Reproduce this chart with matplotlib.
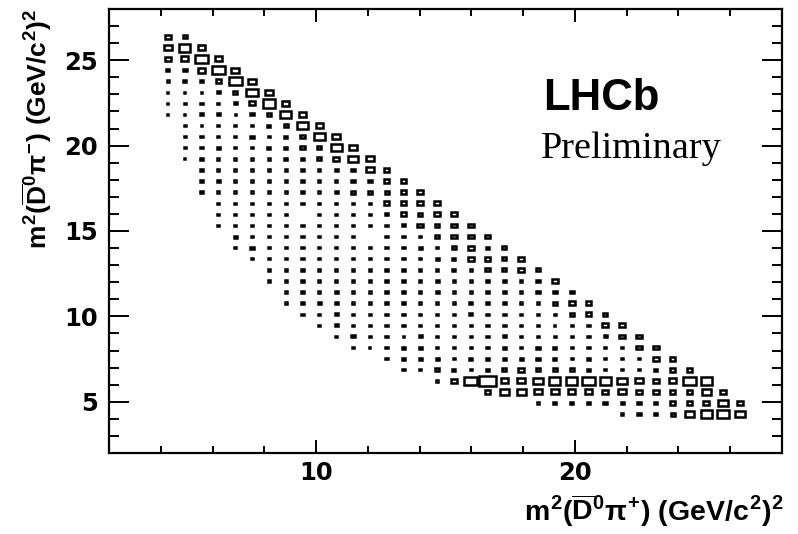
import numpy as np
import matplotlib
matplotlib.use("Agg")
import matplotlib.pyplot as plt
from matplotlib.patches import Rectangle
from matplotlib.ticker import MultipleLocator

plt.rcParams["font.family"] = ["DejaVu Sans"]
plt.rcParams["mathtext.fontset"] = "custom"
plt.rcParams["mathtext.rm"] = "Liberation Sans:bold"
plt.rcParams["mathtext.it"] = "Liberation Sans:bold"
plt.rcParams["mathtext.bf"] = "Liberation Sans:bold"

# Dalitz-plot histogram: 40 x 40 bins from 2 to 28 GeV^2 on both axes
AXIS_MIN, AXIS_MAX, N_BINS = 2.0, 28.0, 40
# z scale: a bin holding Z_MAX events fills its whole cell
Z_MAX = 400.0

# events per bin for each content code used in ROWS
CODE_COUNTS = {".": 0, "a": 2, "b": 7, "c": 14, "d": 25, "e": 46,
               "f": 79, "g": 124, "h": 176, "i": 227, "k": 369}

# y-bin index -> (first x-bin index, bin contents along x as codes)
ROWS = {
    37: (3, "ed"),
    36: (3, "fhf"),
    35: (3, "efif"),
    34: (3, "cdfif"),
    33: (3, "bcceif"),
    32: (3, "aaacdhf"),
    31: (3, "abbbceif"),
    30: (3, "aaccacdhf"),
    29: (4, "babbbcdhf"),
    28: (4, "bbbbcbcdhf"),
    27: (4, "bbcbbccddhf"),
    26: (4, "abbbbbccdegf"),
    25: (5, "cbbbbbbbcdfe"),
    24: (5, "bcbbbbbbbddee"),
    23: (5, "bbbbbbbbcdddee"),
    22: (6, "bbbbbbbbbbeeee"),
    21: (6, "bbbbb.bbbbcedee"),
    20: (6, "bbbbbbbbbbbcedee"),
    19: (7, "cbbbbbbb.bbbdeee"),
    18: (7, "bcbbbbbbbbbcbdecd"),
    17: (8, "bbbbbbbbbbbcceede"),
    16: (9, "bbbbbbbbbbbcbdded"),
    15: (9, "bbcbbbbbbbcbbbbbde"),
    14: (10, "bbbcbbbbbcbbbcbcdd"),
    13: (10, "bbccbbbbbbbcbbbbdee"),
    12: (11, "bbcbbbbbbbcbbbbbded"),
    11: (12, "bcbbbbbbbbbbbbabbee"),
    10: (13, "bcbbacabbbcbbbbbcee"),
    9: (14, "aabccbbbbcbccbbbbee"),
    8: (16, "bcccbccccccbcbbbee"),
    7: (17, "bbdcbcdedddcbbbcee"),
    6: (19, "beikffghhihgfefih"),
    5: (22, "eggffffefeeeege"),
    4: (25, "bcccdccceeege"),
    3: (30, "bccdghig"),
}

X_TITLE = r"$m^{2}(\overline{D}^{0}\pi^{+})\ (GeV/c^{2})^{2}$"
Y_TITLE = r"$m^{2}(\overline{D}^{0}\pi^{-})\ (GeV/c^{2})^{2}$"

# fill the 2D histogram
counts = np.zeros((N_BINS, N_BINS))
for iy, (ix0, codes) in ROWS.items():
    for k, ch in enumerate(codes):
        counts[ix0 + k, iy] = CODE_COUNTS[ch]

edges = np.linspace(AXIS_MIN, AXIS_MAX, N_BINS + 1)
bw = edges[1] - edges[0]

fig = plt.figure(figsize=(7.98, 5.34), dpi=100)
ax = fig.add_axes([109 / 798, 1 - 453 / 534, (782 - 109) / 798, (453 - 9) / 534])

# box drawing: box area proportional to bin content
for ix in range(N_BINS):
    for iy in range(N_BINS):
        c = counts[ix, iy]
        if c <= 0:
            continue
        w = bw * np.sqrt(c / Z_MAX)
        xc = 0.5 * (edges[ix] + edges[ix + 1])
        yc = 0.5 * (edges[iy] + edges[iy + 1])
        ax.add_patch(Rectangle((xc - w / 2, yc - w / 2), w, w, fill=False,
                               edgecolor="black", linewidth=1.8,
                               joinstyle="miter"))

ax.set_xlim(AXIS_MIN, AXIS_MAX)
ax.set_ylim(AXIS_MIN, AXIS_MAX)

ax.xaxis.set_major_locator(MultipleLocator(10))
ax.xaxis.set_minor_locator(MultipleLocator(2))
ax.yaxis.set_major_locator(MultipleLocator(5))
ax.yaxis.set_minor_locator(MultipleLocator(1))

for s in ax.spines.values():
    s.set_linewidth(1.6)

ax.tick_params(which="both", direction="in", top=True, right=True, width=1.4)
ax.tick_params(axis="x", which="major", length=9.4, pad=6)
ax.tick_params(axis="x", which="minor", length=4.8)
ax.tick_params(axis="y", which="major", length=14.4, pad=8)
ax.tick_params(axis="y", which="minor", length=7.2)

for lab in ax.get_xticklabels() + ax.get_yticklabels():
    lab.set_fontsize(17.5)
    lab.set_fontweight("bold")

fig.text(783 / 798, 1 - 521 / 534, X_TITLE, ha="right", va="baseline",
         fontsize=20.5)
fig.text(37 / 798, 1 - 9 / 534, Y_TITLE, ha="center", va="top",
         rotation=90, fontsize=19)

fig.text(543 / 798, 1 - 110 / 534, "LHCb", ha="left", va="baseline",
         fontsize=31.5, fontweight="bold", family="Liberation Sans")
fig.text(541 / 798, 1 - 158 / 534, "Preliminary", ha="left",
         va="baseline", fontsize=27.5, family="Liberation Serif")

fig.savefig("out.png", dpi=100)
